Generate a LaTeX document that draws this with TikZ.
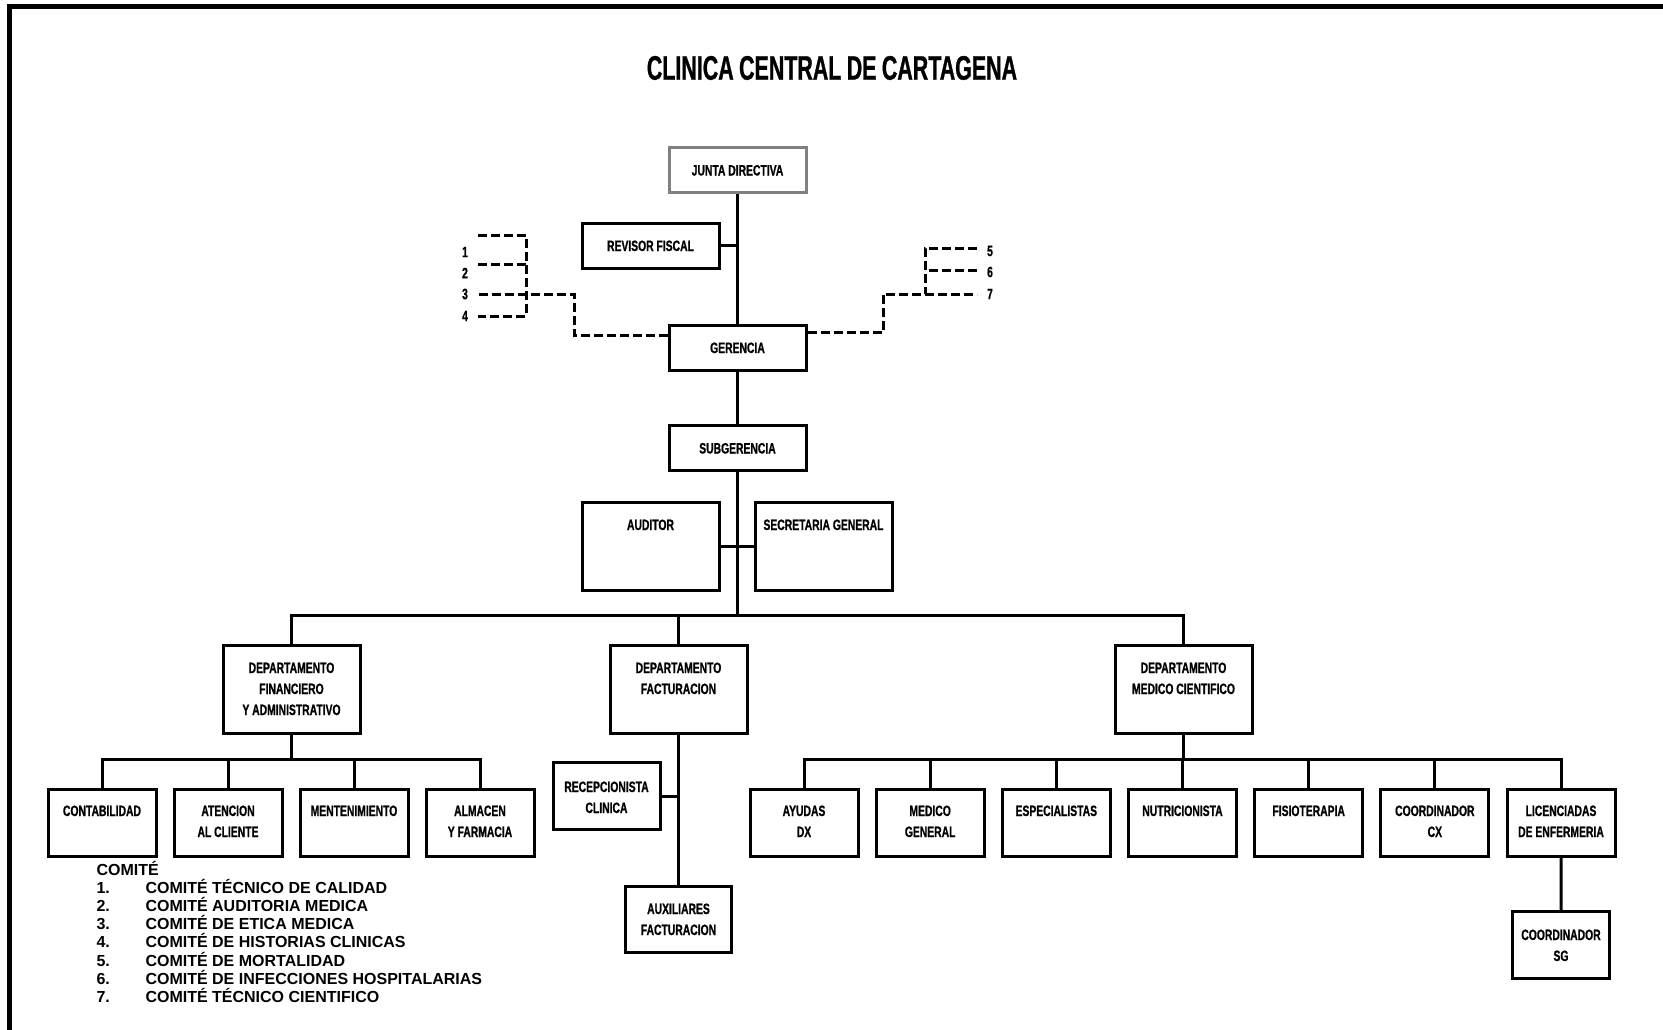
\documentclass[tikz,border=0pt]{standalone}
\usepackage{fontspec}
\setmainfont{Liberation Sans}
\newfontfamily\narrowfont[FakeStretch=0.69, FakeBold=0.8]{Liberation Sans}
\newfontfamily\titlefamily[FakeStretch=0.63, FakeBold=0.8, WordSpace=0.9]{Liberation Sans}
\newcommand{\boxfont}{\narrowfont\bfseries\fontsize{15}{21}\selectfont}
\newcommand{\titlefont}{\titlefamily\bfseries\fontsize{34}{38}\selectfont}
\newcommand{\legendfont}{\bfseries\fontsize{16}{18}\selectfont}
\newcommand{\boxlines}[1]{\begin{tabular}[t]{@{}c@{}}#1\end{tabular}}
\definecolor{JuntaGray}{RGB}{128,128,128}
\usetikzlibrary{positioning}
\tikzset{
  box/.style={draw, line width=3pt, inner sep=0pt, font=\boxfont},
  smallbox/.style={box, minimum width=137pt, minimum height=45pt, text height=11pt, text depth=0pt},
  bigbox/.style={box, anchor=north, minimum width=137pt, text height=27.5pt, text depth=60.5pt},
  childbox/.style={box, anchor=north, minimum width=108pt, text height=26.5pt, text depth=40.5pt},
  recepbox/.style={box, anchor=north, minimum width=107pt, text height=29.5pt, text depth=37.5pt},
  auxbox/.style={box, anchor=north, minimum width=106pt, text height=27.5pt, text depth=38.5pt},
  sgbox/.style={box, anchor=north, minimum width=97pt, text height=28.5pt, text depth=38.5pt},
  dashline/.style={line width=3pt, dash pattern=on 9pt off 4pt},
  numlabel/.style={font=\boxfont, inner sep=0pt},
  legend/.style={font=\legendfont, anchor=base west, inner sep=0pt}
}
\begin{document}
\begin{tikzpicture}[x=1pt, y=-1pt, line width=3pt]
\useasboundingbox (0,0) rectangle (1663,1030);
\draw[line width=4.5pt] (9.5,1030) -- (9.5,6.5) -- (1663,6.5);

\node[font=\titlefont, inner sep=0pt] (title) at (832,68) {CLINICA CENTRAL DE CARTAGENA};

% top of the chart
\node[smallbox, draw=JuntaGray] (junta) at (737.5,170) {JUNTA DIRECTIVA};
\node[smallbox] (revisor) at (650.5,245.5) {REVISOR FISCAL};
\node[smallbox] (gerencia) at (737.5,347.5) {GERENCIA};
\node[smallbox] (subger) at (737.5,448) {SUBGERENCIA};
\node[bigbox] (auditor) at (650.5,501) {AUDITOR};
\node[bigbox] (secretaria) at (823.5,501) {SECRETARIA GENERAL};
\coordinate (bus) at (737.5,615);

\draw (junta.south) -- (gerencia.north);
\draw (revisor.east) -- (revisor.east -| junta.south);
\draw (gerencia.south) -- (subger.north);
\draw (subger.south) -- (bus);
\draw (auditor.east) -- (secretaria.west);

% departamentos
\node[bigbox] (dfin) at (291.5,644) {\boxlines{DEPARTAMENTO\\FINANCIERO\\Y ADMINISTRATIVO}};
\node[bigbox] (dfac) at (678.5,644) {\boxlines{DEPARTAMENTO\\FACTURACION}};
\node[bigbox] (dmed) at (1183.5,644) {\boxlines{DEPARTAMENTO\\MEDICO CIENTIFICO}};
\draw (bus) -| (dfin.north);
\draw (bus) -| (dfac.north);
\draw (bus) -| (dmed.north);

\coordinate (finbus) at (291.5,759);
\draw (dfin.south) -- (finbus);
\foreach \name/\txt [count=\i from 0] in {cont/CONTABILIDAD, aten/{ATENCION\\AL CLIENTE}, mant/MENTENIMIENTO, alm/{ALMACEN\\Y FARMACIA}}{
  \node[childbox] (\name) at ({102+126*\i},788) {\boxlines{\txt}};
  \draw (finbus) -| (\name.north);
}

\node[recepbox] (recep) at (606.5,761) {\boxlines{RECEPCIONISTA\\CLINICA}};
\node[auxbox] (aux) at (678.5,885) {\boxlines{AUXILIARES\\FACTURACION}};
\draw (dfac.south) -- (aux.north);
\draw (recep.east) -- (recep.east -| dfac.south);

\coordinate (medbus) at (1183.5,759);
\draw (dmed.south) -- (medbus);
\foreach \name/\txt [count=\i from 0] in {ayu/{AYUDAS\\DX}, medg/{MEDICO\\GENERAL}, esp/ESPECIALISTAS, nut/NUTRICIONISTA, fis/FISIOTERAPIA, ccx/{COORDINADOR\\CX}, lic/{LICENCIADAS\\DE ENFERMERIA}}{
  \node[childbox] (\name) at ({804+126.17*\i},788) {\boxlines{\txt}};
  \draw (medbus) -| (\name.north);
}
\node[sgbox] (coordsg) at (1561,910) {\boxlines{COORDINADOR\\SG}};
\draw (lic.south) -- (coordsg.north);

% comites
\coordinate (k1) at (478,235);
\coordinate (k2) at (478,264);
\coordinate (k3) at (478,294);
\coordinate (k4) at (478,316);
\coordinate (k5) at (977,248);
\coordinate (k6) at (977,270);
\coordinate (k7) at (977,294);
\draw[dashline] ([yshift=12pt]gerencia.west) -| (574,294) -- (k3);
\draw[dashline] (k1) -| (526,316) -- (k4);
\draw[dashline] (k2) -- (526,264);
\draw[dashline] ([yshift=15pt]gerencia.east) -| (883,294) -- (k7);
\draw[dashline] (k5) -| (925,294);
\draw[dashline] (k6) -- (925,270);
\node[numlabel] (n1) at (465,252) {1};
\node[numlabel] (n2) at (465,273) {2};
\node[numlabel] (n3) at (465,294) {3};
\node[numlabel] (n4) at (465,316) {4};
\node[numlabel] (n5) at (990,251) {5};
\node[numlabel] (n6) at (990,272) {6};
\node[numlabel] (n7) at (990,294) {7};

\node[legend] (comite) at (95,875) {COMIT\'E};
\foreach \t [count=\i] in {COMIT\'E T\'ECNICO DE CALIDAD, COMIT\'E AUDITORIA MEDICA, COMIT\'E DE ETICA MEDICA, COMIT\'E DE HISTORIAS CLINICAS, COMIT\'E DE MORTALIDAD, COMIT\'E DE INFECCIONES HOSPITALARIAS, COMIT\'E T\'ECNICO CIENTIFICO}{
  \node[legend] (num\i) at (95,{875+18.2*\i}) {\i.};
  \node[legend] (com\i) at (144,{875+18.2*\i}) {\t};
}
\end{tikzpicture}
\end{document}
